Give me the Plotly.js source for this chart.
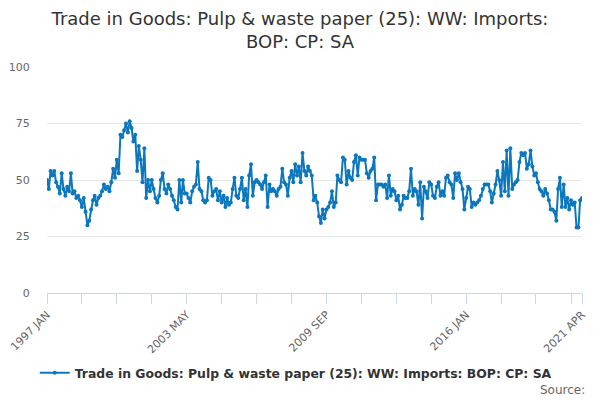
<!DOCTYPE html>
<html>
<head>
<meta charset="utf-8">
<script src="https://cdn.plot.ly/plotly-3.0.1.min.js"></script>
<style>
  html, body { margin: 0; padding: 0; background: #fff; }
  #chart { width: 600px; height: 400px; }
</style>
</head>
<body>
<div id="chart"></div>
<script>
// monthly index values, 1997 JAN .. 2021 APR
var vals1997 = [50,46,54,52,54,49,47,44,53,46,43,47,45,53,44,45,42,43,41,38,42,36,30,32,
                37,41,43,39,42,43,45,48,46,47,45,49,55,51,59,53,70,69,72,75,71,76,73,67];
var vals2001 = [70,54,65,59,49,64,42,50,45,50,46,42,40,43,50,53,46,44,48,46,43,41,38,37,50,
                40,50,44,44,42,40,45,47,48,58,46,45,41,40,41,51,50,43,45,46,41,45,40,43,38];
var vals2005 = [42,39,40,46,51,43,42,46,51,41,46,38,52,57,43,49,50,49,48,46,49,52,38,48,
                45,46,45,43,46,47,55,49,48,43,51,54,49,57,52,56,49,62,54,52,56,54,52,41];
var vals2009 = [43,40,34,31,37,33,37,38,40,45,38,40,52,50,49,60,59,48,54,51,50,58,61,52,60,
                59,59,59,53,51,54,55,60,41,48,48,48,47,48,42,52,43,46,45,41,43,37,39,43,42];
var vals2013 = [42,45,55,43,46,45,39,49,33,47,45,42,49,48,43,42,47,49,43,45,43,51,52,49,48,
                42,53,50,53,49,46,37,42,47,46,38,40,39,40,41,43,46,48,48,48,45,40,44,48];
var vals2017 = [54,50,43,58,45,63,43,64,46,48,49,50,58,62,61,62,55,57,63,56,52,53,49,46,
                45,43,46,44,41,37,37,36,32,46,51,38,48,38,42,37,41,39,40,29,29,41,42];

var startYear = 1997;
var seriesName = 'Trade in Goods: Pulp & waste paper (25): WW: Imports: BOP: CP: SA';
var tickLabels = ['1997 JAN', '2003 MAY', '2009 SEP', '2016 JAN', '2021 APR'];
var labelMonths = [0, 76, 152, 228, 291];

var values = [].concat(vals1997, vals2001, vals2005, vals2009, vals2013, vals2017);

function monthDate(i){
  var y = startYear + Math.floor(i / 12), m = i % 12 + 1;
  return y + '-' + (m < 10 ? '0' + m : m) + '-01';
}
var dates = values.map(function(v, i){ return monthDate(i); });

// tick marks every 19 months, plus the last month
var tickvals = [], ticktext = [];
for (var t = 0; t < values.length - 4; t += 19) {
  tickvals.push(monthDate(t));
  var k = labelMonths.indexOf(t);
  ticktext.push(k >= 0 ? tickLabels[k] : '');
}
tickvals.push(monthDate(values.length - 1));
ticktext.push(tickLabels[tickLabels.length - 1]);

var data = [{
  x: dates,
  y: values,
  type: 'scatter',
  mode: 'lines+markers',
  name: seriesName,
  line: {color: '#0b77bd', width: 2},
  marker: {color: '#0b77bd', size: 4}
}];

var layout = {
  width: 600,
  height: 400,
  font: {family: 'DejaVu Sans, sans-serif', color: '#666'},
  paper_bgcolor: '#fff',
  plot_bgcolor: '#fff',
  margin: {l: 47, r: 18, t: 67, b: 107},
  title: {
    text: 'Trade in Goods: Pulp & waste paper (25): WW: Imports:<br>BOP: CP: SA',
    font: {size: 18, color: '#333'},
    x: 0.5, xanchor: 'center',
    y: 0.9375, yref: 'container', yanchor: 'middle'
  },
  showlegend: true,
  legend: {
    orientation: 'h',
    x: 0.465, xanchor: 'center',
    y: -0.355, yanchor: 'middle',
    itemwidth: 30,
    font: {size: 12.4, color: '#333', weight: 'bold'}
  },
  xaxis: {
    type: 'date',
    range: [dates[0], dates[dates.length - 1]],
    tickmode: 'array',
    tickvals: tickvals,
    ticktext: ticktext,
    tickangle: -45,
    ticks: 'outside',
    ticklen: 10,
    tickcolor: '#ccd6eb',
    showline: true,
    linecolor: '#ccd6eb',
    showgrid: false,
    zeroline: false,
    tickfont: {size: 11, color: '#666'}
  },
  yaxis: {
    range: [0, 100],
    tickvals: [0, 25, 50, 75, 100],
    ticks: 'outside',
    ticklen: 14,
    tickcolor: 'rgba(0,0,0,0)',
    gridcolor: '#e6e6e6',
    zeroline: false,
    showline: false,
    tickfont: {size: 11, color: '#666'}
  },
  annotations: [{
    text: 'Source:',
    xref: 'paper', yref: 'paper',
    x: 1.01, xanchor: 'right',
    y: -0.43, yanchor: 'middle',
    showarrow: false,
    font: {size: 12, color: '#666'}
  }]
};

Plotly.newPlot('chart', data, layout, {displayModeBar: false, staticPlot: true});
</script>
</body>
</html>
